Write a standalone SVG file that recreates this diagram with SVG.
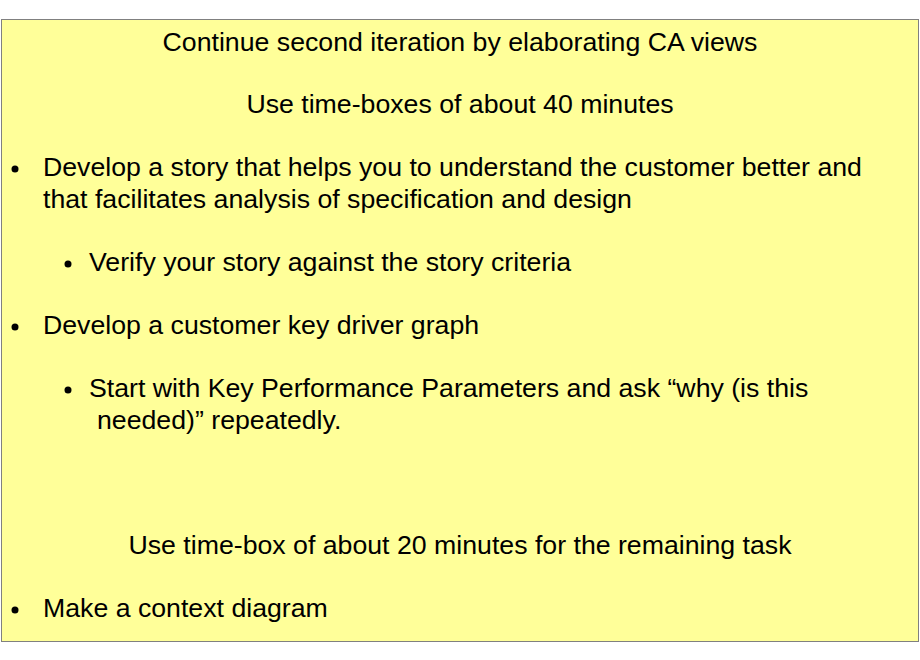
<svg xmlns="http://www.w3.org/2000/svg" width="920" height="660" viewBox="0 0 920 660">
<style>
text{font-family:"Liberation Sans",Arial,sans-serif;font-size:26.7px;fill:#000}
.c{text-anchor:middle}
.b{fill:#000}
</style>
<rect width="920" height="660" fill="#fff"/>
<g id="box">
<rect x="1.5" y="19.5" width="917" height="622" fill="#ffff99" stroke="#808080" stroke-width="1"/>
</g>
<g id="content">
<text class="c" x="460" y="51">Continue second iteration by elaborating CA views</text>
<text class="c" x="460" y="113">Use time-boxes of about 40 minutes</text>
<circle class="b" cx="15" cy="169" r="3.5"/>
<text x="43" y="176">Develop a story that helps you to understand the customer better and</text>
<text x="43" y="208">that facilitates analysis of specification and design</text>
<circle class="b" cx="68" cy="264" r="3.5"/>
<text x="89" y="271">Verify your story against the story criteria</text>
<circle class="b" cx="15" cy="327" r="3.5"/>
<text x="43" y="334">Develop a customer key driver graph</text>
<circle class="b" cx="68" cy="390" r="3.5"/>
<text x="89" y="397">Start with Key Performance Parameters and ask “why (is this</text>
<text x="97" y="429">needed)” repeatedly.</text>
<text class="c" x="460" y="554">Use time-box of about 20 minutes for the remaining task</text>
<circle class="b" cx="15" cy="610" r="3.5"/>
<text x="43" y="617">Make a context diagram</text>
</g>
</svg>
